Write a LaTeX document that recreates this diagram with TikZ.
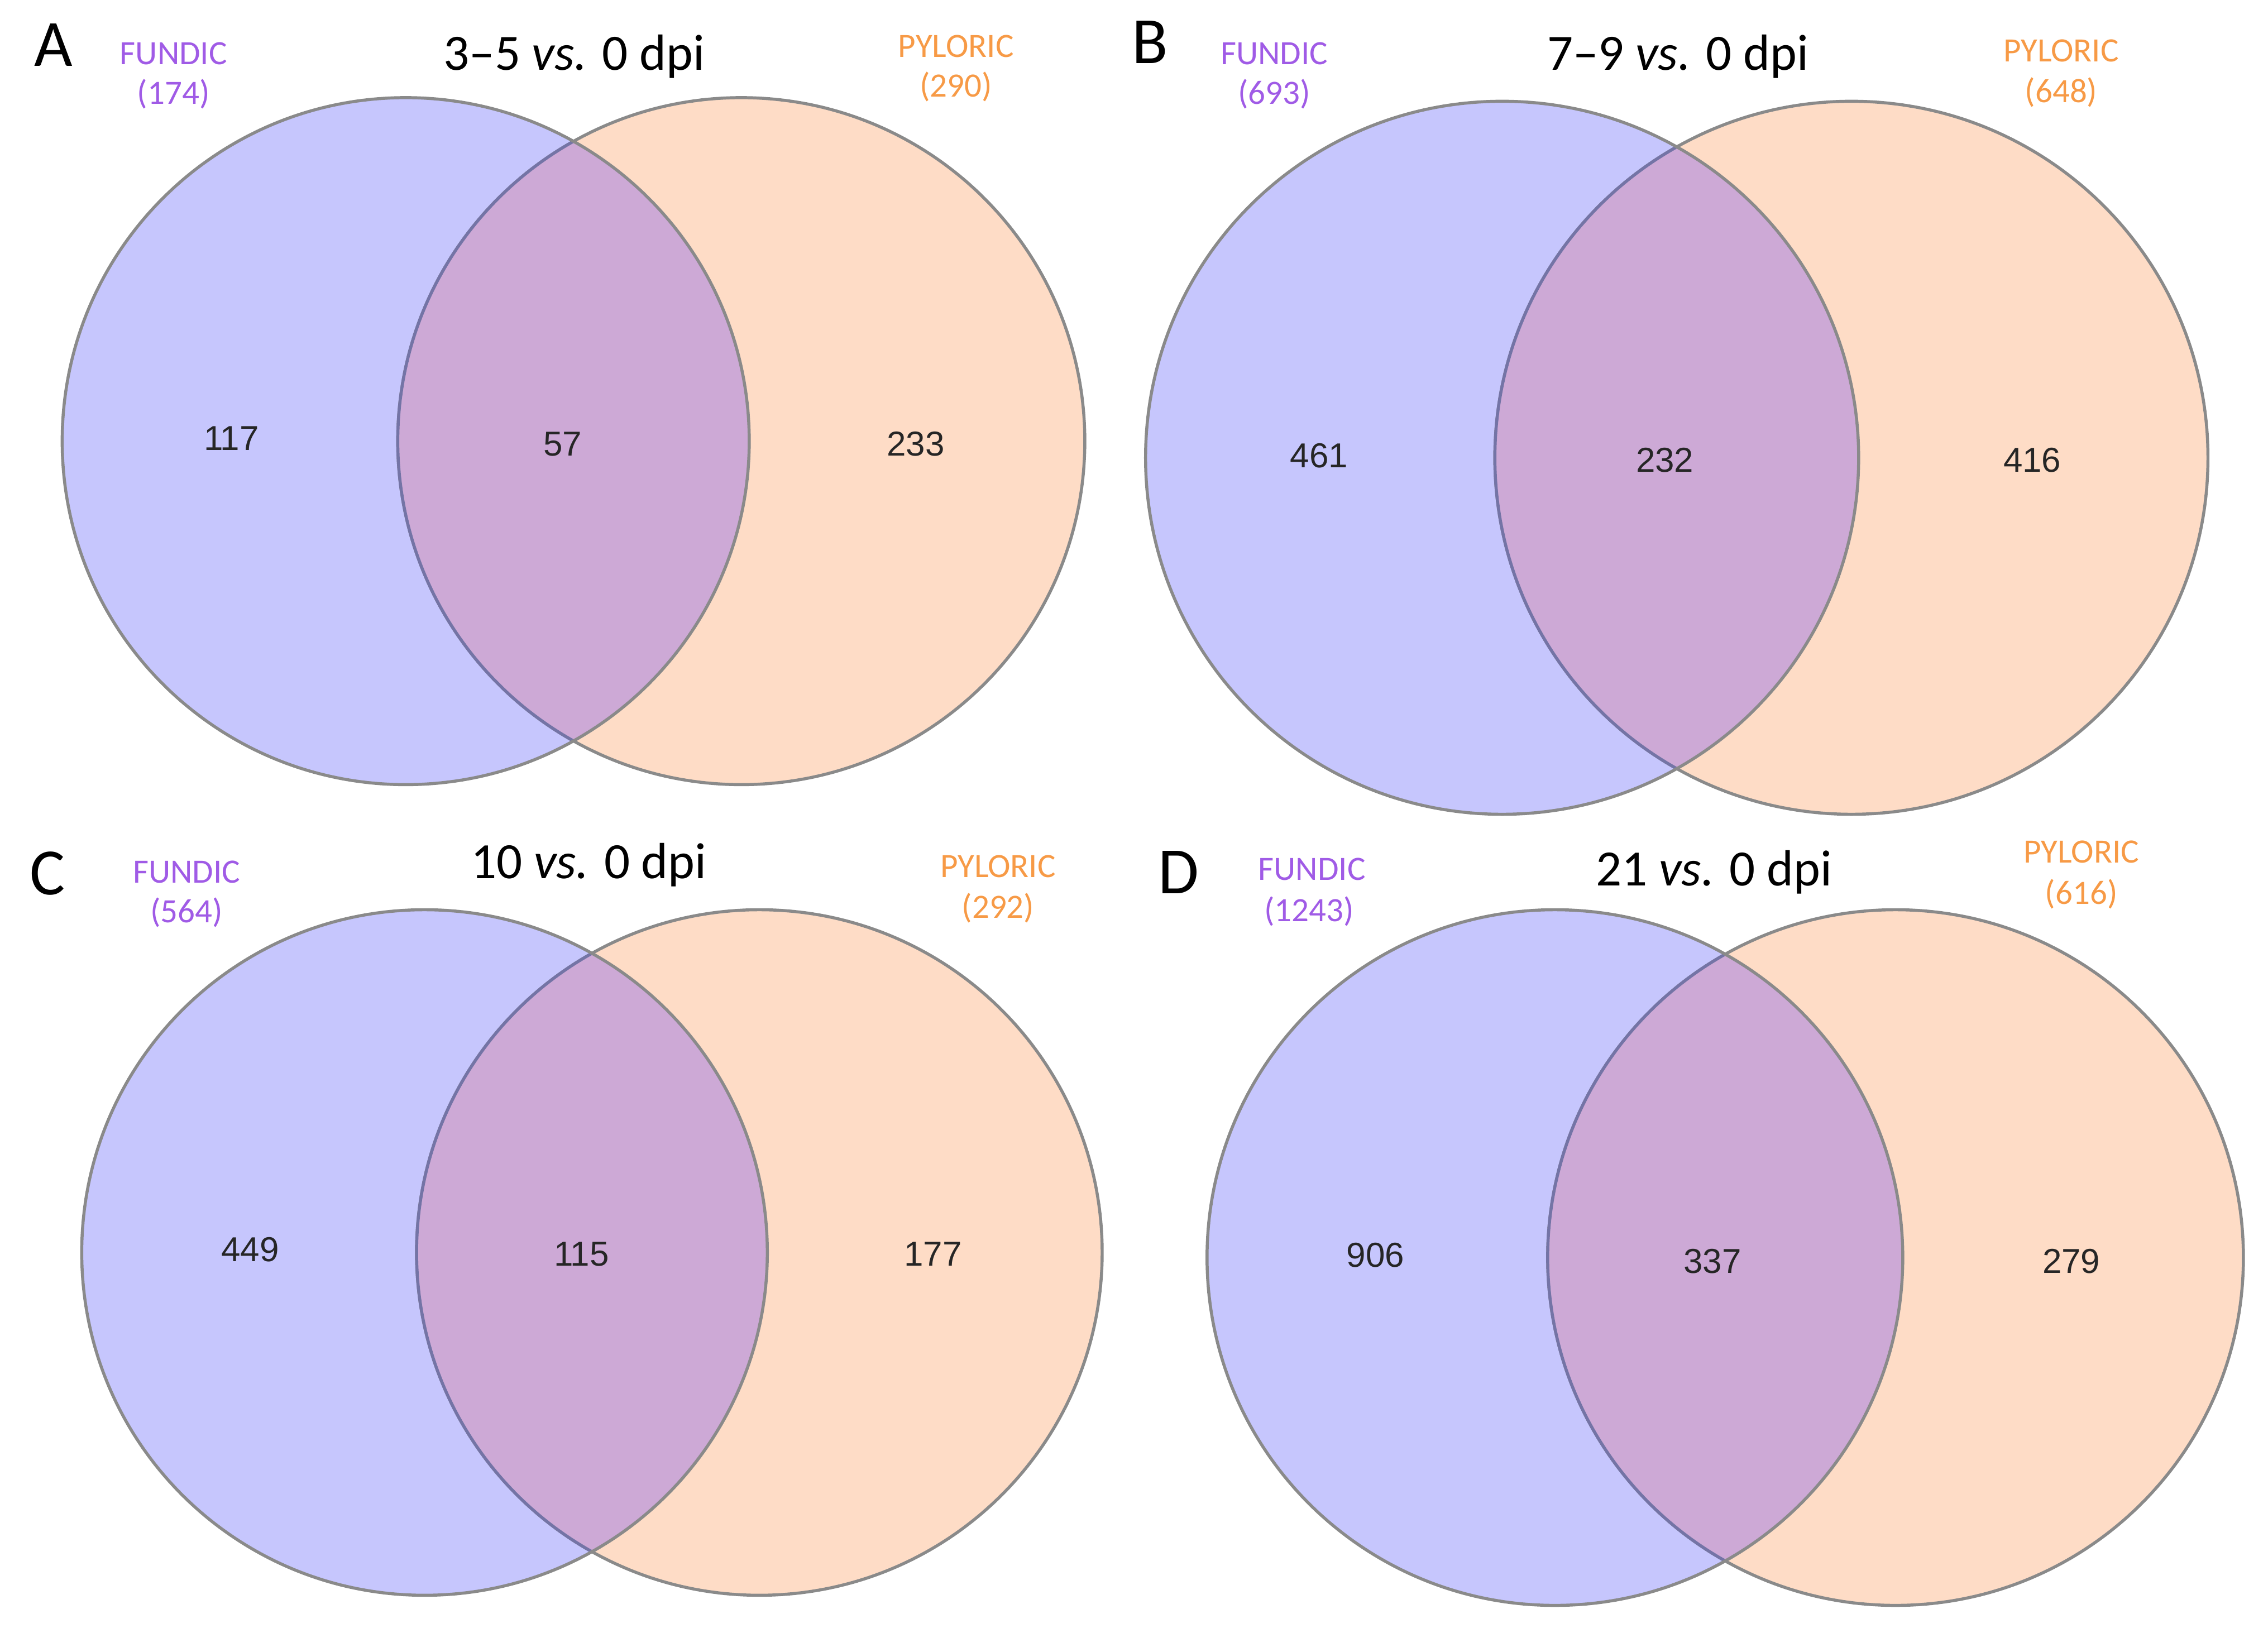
\documentclass[tikz,border=0pt]{standalone}
\usepackage{fontspec}
\setmainfont{Carlito}
\newfontfamily\numfont{Liberation Sans}
\usepackage{xcolor}
\definecolor{fundfill}{HTML}{C6C6FD}
\definecolor{pylfill}{HTML}{FEDCC6}
\definecolor{bothfill}{HTML}{CDA9D6}
\definecolor{rimgray}{HTML}{8A8A8A}
\definecolor{rimblue}{HTML}{7474A6}
\definecolor{fundtext}{HTML}{A05BE6}
\definecolor{pyltext}{HTML}{F79A46}

\begin{document}
\begin{tikzpicture}[x=0.01cm, y=-0.01cm,
  rim/.style={rimgray, line width=0.6pt},
  innerrim/.style={rimblue, line width=0.6pt},
  panel/.style={font=\fontsize{13}{13}\selectfont, inner sep=0pt},
  heading/.style={font=\fontsize{10}{10}\selectfont, inner sep=0pt},
  fundic/.style={fundtext, font=\fontsize{6.7}{6.7}\selectfont, inner sep=0pt},
  pyloric/.style={pyltext, font=\fontsize{6.7}{6.7}\selectfont, inner sep=0pt},
  count/.style={black!85, font=\numfont\fontsize{6.8}{6.8}\selectfont, inner sep=0pt}]
\useasboundingbox (0,0) rectangle (1568,1129);

% Panel A: the two circles and their overlap
\coordinate (fA) at (280.5,305);
\coordinate (pA) at (512.5,305);
\fill[fundfill] (fA) circle[radius=237.5];
\fill[pylfill] (pA) circle[radius=237.5];
\draw[rim] (pA) circle[radius=237.5];
\begin{scope}
\clip (fA) circle[radius=237.5];
\fill[bothfill] (pA) circle[radius=237.5];
\draw[innerrim] (pA) circle[radius=237.5];
\end{scope}
\draw[rim] (fA) circle[radius=237.5];
% Panel A: labels and counts
\node[panel] (lA) at (37,31) {A};
\node[fundic] (fnA) at (120,37) {FUNDIC};
\node[fundic] (fcA) at (120,65) {(174)};
\node[heading] (tA) at (397,39) {3–5 \textit{vs.} 0 dpi};
\node[pyloric] (pnA) at (661,32) {PYLORIC};
\node[pyloric] (pcA) at (661,60) {(290)};
\node[count] (nfA) at (160,303) {117};
\node[count] (nbA) at (389,307) {57};
\node[count] (npA) at (633,307) {233};

% Panel B: the two circles and their overlap
\coordinate (fB) at (1038.5,316.5);
\coordinate (pB) at (1280,316.5);
\fill[fundfill] (fB) circle[radius=246.5];
\fill[pylfill] (pB) circle[radius=246.5];
\draw[rim] (pB) circle[radius=246.5];
\begin{scope}
\clip (fB) circle[radius=246.5];
\fill[bothfill] (pB) circle[radius=246.5];
\draw[innerrim] (pB) circle[radius=246.5];
\end{scope}
\draw[rim] (fB) circle[radius=246.5];
% Panel B: labels and counts
\node[panel] (lB) at (795,29) {B};
\node[fundic] (fnB) at (881,37) {FUNDIC};
\node[fundic] (fcB) at (881,65) {(693)};
\node[heading] (tB) at (1160,39) {7–9 \textit{vs.} 0 dpi};
\node[pyloric] (pnB) at (1425,35) {PYLORIC};
\node[pyloric] (pcB) at (1425,64) {(648)};
\node[count] (nfB) at (912,315) {461};
\node[count] (nbB) at (1151,318) {232};
\node[count] (npB) at (1405,318) {416};

% Panel C: the two circles and their overlap
\coordinate (fC) at (293.5,866);
\coordinate (pC) at (525,866);
\fill[fundfill] (fC) circle[radius=237];
\fill[pylfill] (pC) circle[radius=237];
\draw[rim] (pC) circle[radius=237];
\begin{scope}
\clip (fC) circle[radius=237];
\fill[bothfill] (pC) circle[radius=237];
\draw[innerrim] (pC) circle[radius=237];
\end{scope}
\draw[rim] (fC) circle[radius=237];
% Panel C: labels and counts
\node[panel] (lC) at (33,604) {C};
\node[fundic] (fnC) at (129,603) {FUNDIC};
\node[fundic] (fcC) at (129,631) {(564)};
\node[heading] (tC) at (407,598) {10 \textit{vs.} 0 dpi};
\node[pyloric] (pnC) at (690,599) {PYLORIC};
\node[pyloric] (pcC) at (690,628) {(292)};
\node[count] (nfC) at (173,864) {449};
\node[count] (nbC) at (402,867) {115};
\node[count] (npC) at (645,867) {177};

% Panel D: the two circles and their overlap
\coordinate (fD) at (1075,869.5);
\coordinate (pD) at (1310.5,869.5);
\fill[fundfill] (fD) circle[radius=240.5];
\fill[pylfill] (pD) circle[radius=240.5];
\draw[rim] (pD) circle[radius=240.5];
\begin{scope}
\clip (fD) circle[radius=240.5];
\fill[bothfill] (pD) circle[radius=240.5];
\draw[innerrim] (pD) circle[radius=240.5];
\end{scope}
\draw[rim] (fD) circle[radius=240.5];
% Panel D: labels and counts
\node[panel] (lD) at (815,603) {D};
\node[fundic] (fnD) at (907,601) {FUNDIC};
\node[fundic] (fcD) at (905,630) {(1243)};
\node[heading] (tD) at (1185,603) {21 \textit{vs.} 0 dpi};
\node[pyloric] (pnD) at (1439,589) {PYLORIC};
\node[pyloric] (pcD) at (1439,618) {(616)};
\node[count] (nfD) at (951,868) {906};
\node[count] (nbD) at (1184,872) {337};
\node[count] (npD) at (1432,872) {279};
\end{tikzpicture}
\end{document}
